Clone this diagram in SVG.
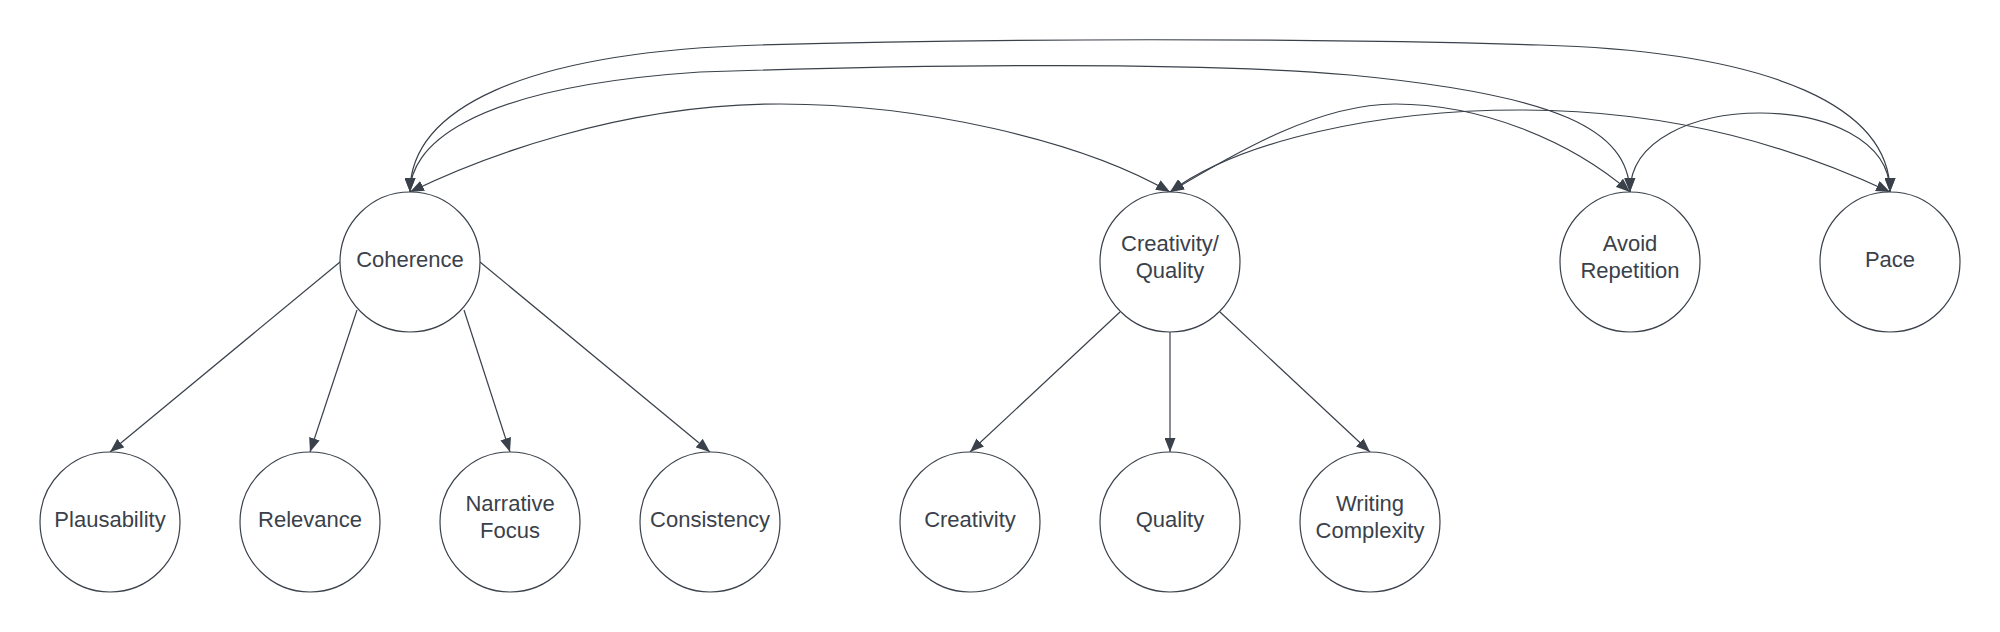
<svg xmlns="http://www.w3.org/2000/svg" width="2000" height="632" viewBox="0 0 2000 632">
<style>
.node circle{fill:#ffffff;stroke:#3a414a;stroke-width:1.2}
.node text{font-family:"Liberation Sans",Arial,sans-serif;font-size:22px;fill:#3a414a;text-anchor:middle}
.edge{fill:none;stroke:#3a414a;stroke-width:1.2}
.uni{marker-end:url(#arrow)}
.bi{marker-start:url(#arrow);marker-end:url(#arrow)}
</style>
<defs>
<marker id="arrow" viewBox="0 0 14 11" refX="14" refY="5.5" markerWidth="14" markerHeight="11" markerUnits="userSpaceOnUse" orient="auto-start-reverse">
<path d="M0,0 L14,5.5 L0,11 z" fill="#3a414a"/>
</marker>
</defs>
<rect width="2000" height="632" fill="#ffffff"/>
<g id="connectors">
<path class="edge uni" d="M340,262 L110,452"/>
<path class="edge uni" d="M357,310 L310,452"/>
<path class="edge uni" d="M464,310 L510,452"/>
<path class="edge uni" d="M480,262 L710,452"/>
<path class="edge uni" d="M1120,312 L970,452"/>
<path class="edge uni" d="M1170,332 L1170,452"/>
<path class="edge uni" d="M1220,312 L1370,452"/>
<path class="edge bi" d="M410,192 C410,110 520,52 760,45 C1000,38 1300,38 1540,45 C1780,52 1890,110 1890,192"/>
<path class="edge bi" d="M410,192 C410,150 460,88 700,72 C940,64 1200,62 1350,75 C1560,95 1628,130 1630,192"/>
<path class="edge bi" d="M410,192 C480,158 620,104 780,104 C920,104 1080,140 1170,192"/>
<path class="edge bi" d="M1170,192 C1240,150 1320,104 1395,104 C1480,104 1570,140 1630,192"/>
<path class="edge bi" d="M1170,192 C1240,140 1380,110 1520,110 C1680,110 1800,150 1890,192"/>
<path class="edge bi" d="M1630,192 C1630,86.7 1890,86.7 1890,192"/>
</g>
<g id="coherence" class="node"><circle cx="410" cy="262" r="70"/><text x="410" y="267">Coherence</text></g>
<g id="creativity-quality" class="node"><circle cx="1170" cy="262" r="70"/><text x="1170" y="251">Creativity/</text><text x="1170" y="278">Quality</text></g>
<g id="avoid-repetition" class="node"><circle cx="1630" cy="262" r="70"/><text x="1630" y="251">Avoid</text><text x="1630" y="278">Repetition</text></g>
<g id="pace" class="node"><circle cx="1890" cy="262" r="70"/><text x="1890" y="267">Pace</text></g>
<g id="plausability" class="node"><circle cx="110" cy="522" r="70"/><text x="110" y="527">Plausability</text></g>
<g id="relevance" class="node"><circle cx="310" cy="522" r="70"/><text x="310" y="527">Relevance</text></g>
<g id="narrative-focus" class="node"><circle cx="510" cy="522" r="70"/><text x="510" y="511">Narrative</text><text x="510" y="538">Focus</text></g>
<g id="consistency" class="node"><circle cx="710" cy="522" r="70"/><text x="710" y="527">Consistency</text></g>
<g id="creativity" class="node"><circle cx="970" cy="522" r="70"/><text x="970" y="527">Creativity</text></g>
<g id="quality" class="node"><circle cx="1170" cy="522" r="70"/><text x="1170" y="527">Quality</text></g>
<g id="writing-complexity" class="node"><circle cx="1370" cy="522" r="70"/><text x="1370" y="511">Writing</text><text x="1370" y="538">Complexity</text></g>
</svg>
